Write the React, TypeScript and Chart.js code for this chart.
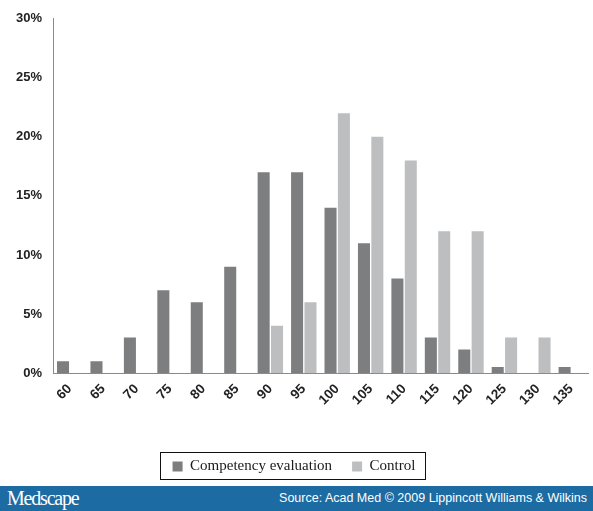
import React, { useEffect, useRef } from "react";
import { Chart, registerables } from "chart.js";

Chart.register(...registerables);

const categories = ["60", "65", "70", "75", "80", "85", "90", "95", "100", "105", "110", "115", "120", "125", "130", "135"];
const competency = [1, 1, 3, 7, 6, 9, 17, 17, 14, 11, 8, 3, 2, 0.5, 0, 0.5];
const control = [0, 0, 0, 0, 0, 0, 4, 6, 22, 20, 18, 12, 12, 3, 3, 0];
const yTicks = [0, 5, 10, 15, 20, 25, 30];
const seriesNames = ["Competency evaluation", "Control"];

const legendBorder = {
  id: "legendBorder",
  afterDraw(chart: any) {
    const lg = chart.legend;
    if (!lg || !lg.legendHitBoxes || !lg.legendHitBoxes.length) return;
    const boxes = lg.legendHitBoxes;
    let l = Infinity, r = -Infinity, t = Infinity, b = -Infinity;
    for (const h of boxes) {
      l = Math.min(l, h.left);
      r = Math.max(r, h.left + h.width);
      t = Math.min(t, h.top);
      b = Math.max(b, h.top + h.height);
    }
    const ctx = chart.ctx;
    ctx.save();
    ctx.strokeStyle = "#111";
    ctx.lineWidth = 1;
    ctx.strokeRect(Math.round(l - 13) + 0.5, Math.round(t - 7) + 0.5, Math.round(r - l + 22), Math.round(b - t + 12));
    ctx.restore();
  },
};

export default function App() {
  const ref = useRef<HTMLCanvasElement | null>(null);

  useEffect(() => {
    document.body.style.margin = "0";
    const c = ref.current;
    if (!c) return;
    const chart = new Chart(c, {
      type: "bar",
      data: {
        labels: categories,
        datasets: [
          { label: seriesNames[0], data: competency, backgroundColor: "#7d7e80", borderWidth: 0 },
          { label: seriesNames[1], data: control, backgroundColor: "#bdbec0", borderWidth: 0 },
        ],
      },
      options: {
        animation: false,
        responsive: false,
        devicePixelRatio: 1,
        layout: { padding: { top: 18, right: 5, left: 0, bottom: 2 } },
        plugins: {
          tooltip: { enabled: false },
          legend: {
            position: "bottom",
            labels: {
              color: "#1a1a1a",
              font: { family: "'Liberation Serif', 'Times New Roman', serif", size: 15 },
              boxWidth: 10,
              boxHeight: 10,
              padding: 20,
            },
          },
        },
        scales: {
          x: {
            grid: { display: false, drawTicks: false },
            border: { color: "#8a8a8a", width: 1 },
            categoryPercentage: 0.76,
            barPercentage: 1.0,
            ticks: {
              color: "#222",
              font: { family: "'Liberation Sans', Arial, sans-serif", size: 13.5, weight: "bold" },
              minRotation: 45,
              maxRotation: 45,
              padding: 8,
            },
            afterFit(scale: any) {
              scale.height = 66;
            },
          },
          y: {
            min: 0,
            max: 30,
            grid: { display: false, drawTicks: false },
            border: { color: "#8a8a8a", width: 1 },
            afterBuildTicks(scale: any) {
              scale.ticks = yTicks.map((v) => ({ value: v }));
            },
            ticks: {
              color: "#222",
              font: { family: "'Liberation Sans', Arial, sans-serif", size: 13, weight: "bold" },
              padding: 11,
              callback: (v: any) => v + "%",
            },
            afterFit(scale: any) {
              scale.width = 53;
            },
          },
        },
      } as any,
      plugins: [legendBorder],
    });
    return () => chart.destroy();
  }, []);

  return (
    <div style={{ position: "absolute", left: 0, top: 0, width: 593, height: 511, background: "#fff", overflow: "hidden" }}>
      <canvas ref={ref} width={593} height={486} style={{ display: "block", width: 593, height: 486 }} />
      <div
        style={{
          position: "absolute",
          left: 0,
          top: 486,
          width: 593,
          height: 25,
          background: "#1d6ba3",
          color: "#fff",
        }}
      >
        <span
          style={{
            position: "absolute",
            left: 7,
            top: 1,
            fontFamily: "'Liberation Serif', 'Times New Roman', serif",
            fontSize: 20,
            letterSpacing: -1.2,
          }}
        >
          Medscape
        </span>
        <span
          style={{
            position: "absolute",
            right: 6,
            top: 5,
            fontFamily: "'Liberation Sans', Arial, sans-serif",
            fontSize: 12.5,
          }}
        >
          Source: Acad Med © 2009 Lippincott Williams &amp; Wilkins
        </span>
      </div>
    </div>
  );
}
